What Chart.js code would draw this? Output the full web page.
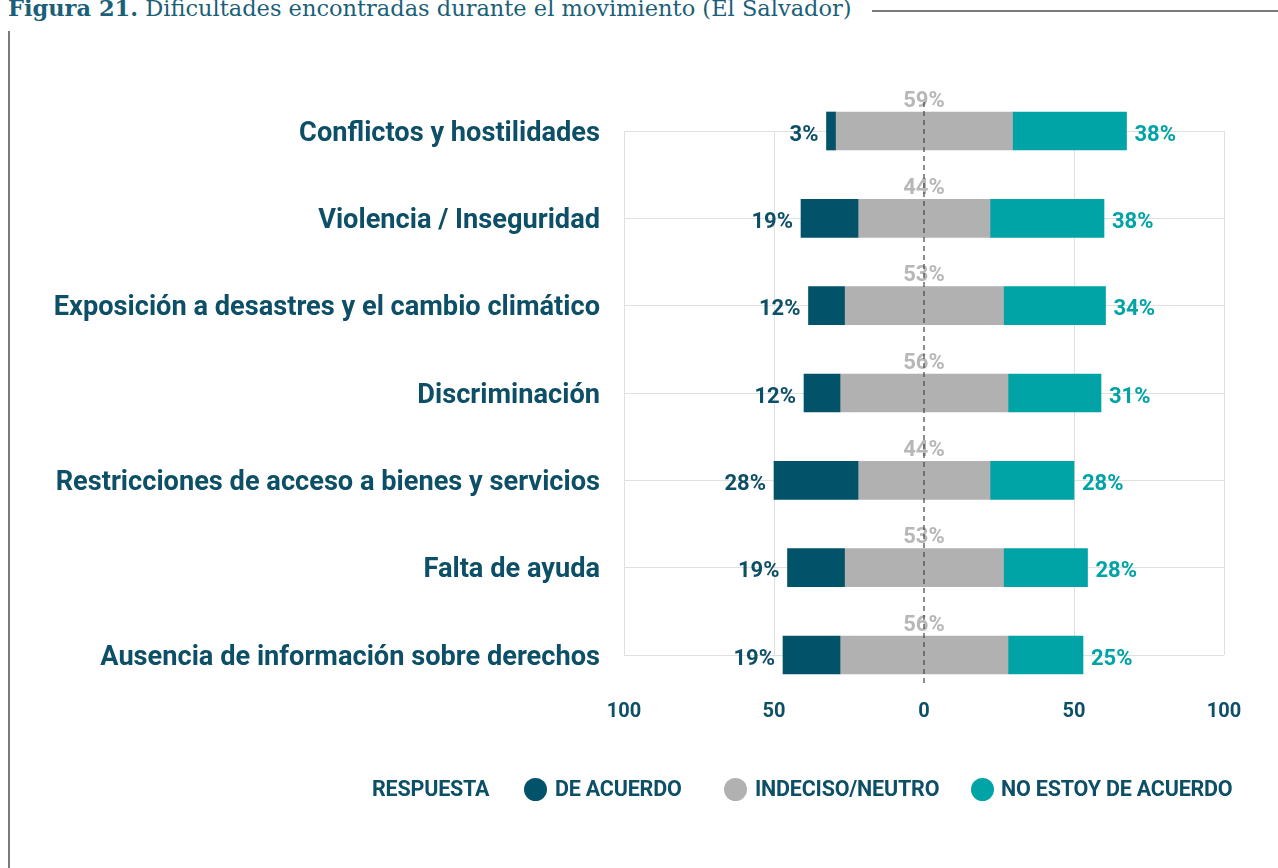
<!DOCTYPE html>
<html><head><meta charset="utf-8">
<script src="https://cdn.jsdelivr.net/npm/chart.js@4.4.1/dist/chart.umd.min.js"></script>
<style>
html,body{margin:0;padding:0;background:#fff;width:1278px;height:868px;overflow:hidden;position:relative;font-family:Roboto,sans-serif}
#cv{position:absolute;left:0;top:0}
#title{position:absolute;left:8px;top:-7px;font-family:"DejaVu Serif",serif;font-size:22.5px;color:#1b5f78;white-space:nowrap;line-height:30px}
#hline{position:absolute;left:872px;top:10px;width:406px;height:2px;background:#7a7a7a}
#vline{position:absolute;left:8px;top:31px;width:2px;height:837px;background:#7a7a7a}
.lg{position:absolute;top:777px;height:24px;line-height:24px;font-weight:700;font-size:21.5px;color:#0d4f66;white-space:nowrap;letter-spacing:-0.2px}
.dot{position:absolute;top:778px;width:23px;height:23px;border-radius:50%}
</style></head>
<body>
<div id="title"><b>Figura 21.</b> Dificultades encontradas durante el movimiento (El Salvador)</div>
<div id="hline"></div>
<div id="vline"></div>
<canvas id="cv" width="1278" height="868"></canvas>
<div class="lg" style="left:372px">RESPUESTA</div>
<div class="dot" style="left:524px;background:#02526a"></div>
<div class="lg" id="l1" style="left:555px"></div>
<div class="dot" style="left:724px;background:#b1b1b1"></div>
<div class="lg" id="l2" style="left:755px"></div>
<div class="dot" style="left:971px;background:#00a3a6"></div>
<div class="lg" id="l3" style="left:1001px"></div>
<script>
const categories = [
  'Conflictos y hostilidades',
  'Violencia / Inseguridad',
  'Exposición a desastres y el cambio climático',
  'Discriminación',
  'Restricciones de acceso a bienes y servicios',
  'Falta de ayuda',
  'Ausencia de información sobre derechos'
];
const deAcuerdo = [3, 19, 12, 12, 28, 19, 19];
const neutro    = [59, 44, 53, 56, 44, 53, 56];
const noAcuerdo = [38, 38, 34, 31, 28, 28, 25];
const seriesNames = ['DE ACUERDO', 'INDECISO/NEUTRO', 'NO ESTOY DE ACUERDO'];
const xTickValues = [-100, -50, 0, 50, 100];

const C_DARK = '#02526a', C_GRAY = '#b1b1b1', C_TEAL = '#00a3a6';
const TXT = '#0d4f66';

document.getElementById('l1').textContent = seriesNames[0];
document.getElementById('l2').textContent = seriesNames[1];
document.getElementById('l3').textContent = seriesNames[2];

const darkData = deAcuerdo.map((d, i) => [-neutro[i] / 2 - d, -neutro[i] / 2]);
const grayData = neutro.map(n => [-n / 2, n / 2]);
const tealData = noAcuerdo.map((t, i) => [neutro[i] / 2, neutro[i] / 2 + t]);

const annot = {
  id: 'annot',
  afterDatasetsDraw(chart) {
    const ctx = chart.ctx, xs = chart.scales.x, ys = chart.scales.y;
    const x0 = xs.getPixelForValue(0);
    ctx.save();
    ctx.font = '700 22px Roboto';
    ctx.textBaseline = 'middle';
    categories.forEach((c, i) => {
      const y = ys.getPixelForValue(i);
      ctx.fillStyle = TXT; ctx.textAlign = 'right';
      ctx.fillText(deAcuerdo[i] + '%', xs.getPixelForValue(darkData[i][0]) - 8, y + 4);
      ctx.fillStyle = C_TEAL; ctx.textAlign = 'left';
      ctx.fillText(noAcuerdo[i] + '%', xs.getPixelForValue(tealData[i][1]) + 8, y + 4);
      ctx.fillStyle = '#b7b7b7'; ctx.textAlign = 'center';
      ctx.fillText(neutro[i] + '%', x0, y - 30);
    });
    ctx.setLineDash([5, 4]);
    ctx.strokeStyle = '#444';
    ctx.lineWidth = 1.2;
    ctx.beginPath();
    ctx.moveTo(x0, chart.chartArea.top - 29);
    ctx.lineTo(x0, chart.chartArea.bottom + 30);
    ctx.stroke();
    ctx.restore();
  }
};

new Chart(document.getElementById('cv'), {
  type: 'bar',
  data: {
    labels: categories,
    datasets: [
      { label: seriesNames[0], data: darkData, backgroundColor: C_DARK },
      { label: seriesNames[1], data: grayData, backgroundColor: C_GRAY },
      { label: seriesNames[2], data: tealData, backgroundColor: C_TEAL }
    ]
  },
  options: {
    indexAxis: 'y',
    responsive: false,
    animation: false,
    layout: { padding: { top: 131, right: 54, left: 0, bottom: 0 } },
    plugins: { legend: { display: false }, tooltip: { enabled: false } },
    datasets: { bar: { grouped: false, barThickness: 38, clip: false, borderSkipped: false } },
    scales: {
      x: {
        min: -100, max: 100,
        afterBuildTicks: s => { s.ticks = xTickValues.map(v => ({ value: v })); },
        afterFit: s => { s.height = 213; s.paddingLeft = 0; s.paddingRight = 0; },
        ticks: {
          autoSkip: false, padding: 45, color: TXT,
          font: { family: 'Roboto', weight: '700', size: 20 },
          callback: v => String(Math.abs(v))
        },
        grid: { drawTicks: false, color: c => (c.tick && c.tick.value === 0) ? 'rgba(0,0,0,0)' : '#e0e0e0' },
        border: { display: false }
      },
      y: {
        offset: false,
        afterFit: s => { s.width = 624; s.paddingTop = 0; s.paddingBottom = 0; },
        ticks: { padding: 24, labelOffset: 3, color: TXT, font: { family: 'Roboto', weight: '700', size: 27.2 } },
        grid: { drawTicks: false, color: '#e0e0e0', offset: false },
        border: { display: false }
      }
    }
  },
  plugins: [annot]
});
</script>
</body></html>
